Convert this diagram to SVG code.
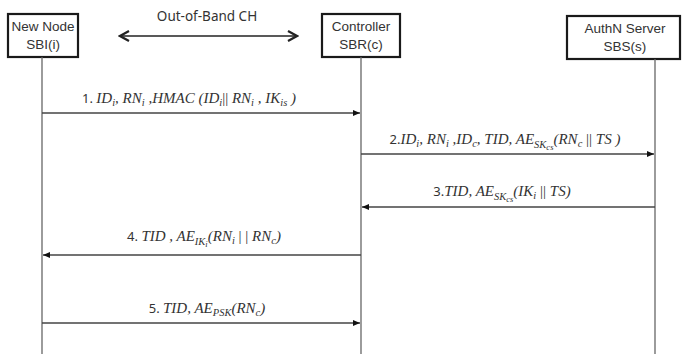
<svg xmlns="http://www.w3.org/2000/svg" width="686" height="354" viewBox="0 0 686 354">
<style>
.box{fill:#fff;stroke:#1a1a1a;stroke-width:2.2}
.nt{font-family:"Liberation Sans","Noto Sans",sans-serif;font-size:13.5px;fill:#333;text-anchor:middle}
.oob{font-family:"Noto Sans","Liberation Sans",sans-serif;font-size:13.5px;fill:#333;text-anchor:middle}
.life{stroke:#666;stroke-width:1.3;fill:none}
.msg{stroke:#444;stroke-width:1.3;fill:none}
.lb{font-family:"Liberation Serif","DejaVu Serif",serif;font-style:italic;font-size:15px;fill:#333;text-anchor:middle}
.n{font-family:"Noto Sans","Liberation Sans",sans-serif;font-style:normal;font-size:13px}
.s{font-size:10.5px}
.ss{font-size:8.5px}
</style>
<defs>
<marker id="ah" markerWidth="8" markerHeight="8" refX="7" refY="4" orient="auto" markerUnits="userSpaceOnUse">
<path d="M0,1 L7,4 L0,7 Z" fill="#111"/>
</marker>
<marker id="oa" markerWidth="12" markerHeight="12" refX="10" refY="6" orient="auto-start-reverse" markerUnits="userSpaceOnUse">
<path d="M1,1 L10,6 L1,11" fill="none" stroke="#222" stroke-width="2.2"/>
</marker>
</defs>
<rect width="686" height="354" fill="#fff"/>
<g id="new-node">
<rect class="box" x="8" y="14" width="70" height="43"/>
<text class="nt" x="43" y="31">New Node</text>
<text class="nt" x="43" y="49">SBI(i)</text>
</g>
<g id="controller">
<rect class="box" x="322" y="14" width="78" height="43"/>
<text class="nt" x="361" y="31">Controller</text>
<text class="nt" x="361" y="49">SBR(c)</text>
</g>
<g id="authn-server">
<rect class="box" x="567" y="16" width="113" height="43"/>
<text class="nt" x="625" y="33">AuthN  Server</text>
<text class="nt" x="625" y="51">SBS(s)</text>
</g>
<g id="connectors">
<line class="life" x1="42" y1="57" x2="42" y2="354"/>
<line class="life" x1="361" y1="57" x2="361" y2="354"/>
<line class="life" x1="655" y1="59" x2="655" y2="354"/>
<line x1="120" y1="36" x2="297" y2="36" stroke="#222" stroke-width="1.6" marker-start="url(#oa)" marker-end="url(#oa)"/>
<text class="oob" x="207" y="21">Out-of-Band  CH</text>
<line class="msg" x1="42" y1="113" x2="360" y2="113" marker-end="url(#ah)"/>
<line class="msg" x1="361" y1="154" x2="654" y2="154" marker-end="url(#ah)"/>
<line class="msg" x1="655" y1="207" x2="362" y2="207" marker-end="url(#ah)"/>
<line class="msg" x1="361" y1="255" x2="43" y2="255" marker-end="url(#ah)"/>
<line class="msg" x1="42" y1="323" x2="360" y2="323" marker-end="url(#ah)"/>
<text class="lb" x="189" y="103"><tspan class="n">1.  </tspan>ID<tspan class="s" dy="3">i</tspan><tspan dy="-3">, RN</tspan><tspan class="s" dy="3">i</tspan><tspan dy="-3"> ,HMAC (ID</tspan><tspan class="s" dy="3">i</tspan><tspan dy="-3" font-style="normal">|| </tspan><tspan>RN</tspan><tspan class="s" dy="3">i</tspan><tspan dy="-3"> , IK</tspan><tspan class="s" dy="3">is</tspan><tspan dy="-3"> )</tspan></text>
<text class="lb" x="505" y="144"><tspan class="n">2.</tspan>ID<tspan class="s" dy="3">i</tspan><tspan dy="-3">, RN</tspan><tspan class="s" dy="3">i</tspan><tspan dy="-3"> ,ID</tspan><tspan class="s" dy="3">c</tspan><tspan dy="-3">,  TID, AE</tspan><tspan class="s" dy="4">SK</tspan><tspan class="ss" dy="2">cs</tspan><tspan dy="-6">(RN</tspan><tspan class="s" dy="3">c</tspan><tspan dy="-3" font-style="normal"> || </tspan><tspan>TS )</tspan></text>
<text class="lb" x="502" y="196"><tspan class="n">3.</tspan>TID,  AE<tspan class="s" dy="4">SK</tspan><tspan class="ss" dy="2">cs</tspan><tspan dy="-6">(IK</tspan><tspan class="s" dy="3">i</tspan><tspan dy="-3" font-style="normal"> || </tspan><tspan>TS)</tspan></text>
<text class="lb" x="204" y="241"><tspan class="n">4.  </tspan>TID ,  AE<tspan class="s" dy="4">IK</tspan><tspan class="ss" dy="2">i</tspan><tspan dy="-6">(RN</tspan><tspan class="s" dy="3">i</tspan><tspan dy="-3" font-style="normal">  | |  </tspan><tspan>RN</tspan><tspan class="s" dy="3">c</tspan><tspan dy="-3">)</tspan></text>
<text class="lb" x="207" y="313"><tspan class="n">5.  </tspan>TID, AE<tspan class="s" dy="3">PSK</tspan><tspan dy="-3">(RN</tspan><tspan class="s" dy="3">c</tspan><tspan dy="-3">)</tspan></text>
</g>
</svg>
